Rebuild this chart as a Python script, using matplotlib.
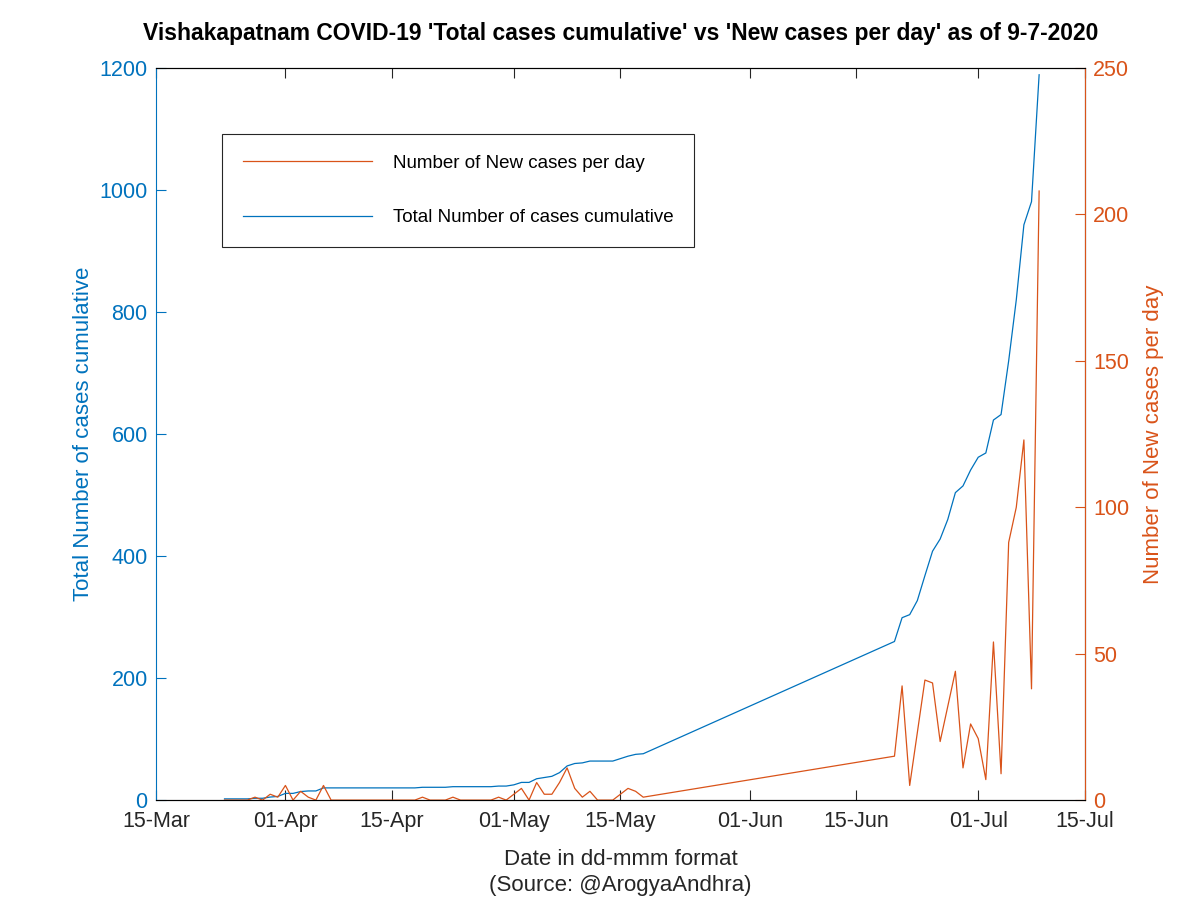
import numpy as np
import pandas as pd
import matplotlib
matplotlib.use("Agg")
import matplotlib.pyplot as plt
import matplotlib.dates as mdates

plt.rcParams['font.family'] = ['Liberation Sans', 'DejaVu Sans']

# daily data 24-Mar .. 18-May, then 20-Jun .. 09-Jul
dates_a = pd.date_range("2020-03-24", "2020-05-18")
dates_b = pd.date_range("2020-06-20", "2020-07-09")

new_a = [0, 0, 0, 0, 1, 0, 2, 1,            # 24-31 Mar
         5, 0, 3, 1, 0, 5, 0, 0, 0, 0,      # 01-10 Apr
         0, 0, 0, 0, 0, 0, 0, 0, 1, 0,      # 11-20 Apr
         0, 0, 1, 0, 0, 0, 0, 0, 1, 0,      # 21-30 Apr
         2, 4, 0, 6, 2, 2, 6, 11, 4, 1,     # 01-10 May
         3, 0, 0, 0, 2, 4, 3, 1]            # 11-18 May
total_a = [2, 2, 2, 2, 3, 3, 5, 6,
           11, 11, 14, 15, 15, 20, 20, 20, 20, 20,
           20, 20, 20, 20, 20, 20, 20, 20, 21, 21,
           21, 21, 22, 22, 22, 22, 22, 22, 23, 23,
           25, 29, 29, 35, 37, 39, 45, 56, 60, 61,
           64, 64, 64, 64, 68, 72, 75, 76]

new_b = [15, 39, 5, 23, 41, 40, 20, 32, 44, 11,
         26, 21, 7, 54, 9, 88, 100, 123, 38, 208]
total_b = [260, 299, 304, 327, 368, 408, 428, 460, 504, 515,
           541, 562, 569, 623, 632, 720, 820, 943, 981, 1189]

dates = dates_a.append(dates_b)
new_cases = new_a + new_b
total_cases = total_a + total_b

blue = '#0072BD'
orange = '#D95319'

fig = plt.figure(figsize=(12, 9), dpi=100)
ax = fig.add_axes([0.13, 0.111, 0.774, 0.8134])
ax2 = ax.twinx()

l1, = ax.plot(dates, total_cases, color=blue, lw=0.9)
l2, = ax2.plot(dates, new_cases, color=orange, lw=0.9)

ax.set_xlim(pd.Timestamp("2020-03-15"), pd.Timestamp("2020-07-15"))
ax.set_ylim(0, 1200)
ax2.set_ylim(0, 250)
ax.set_yticks(range(0, 1201, 200))
ax2.set_yticks(range(0, 251, 50))

ticks = pd.to_datetime(["2020-03-15", "2020-04-01", "2020-04-15", "2020-05-01",
                        "2020-05-15", "2020-06-01", "2020-06-15", "2020-07-01",
                        "2020-07-15"])
ax.set_xticks(ticks)
ax.xaxis.set_major_formatter(mdates.DateFormatter("%d-%b"))

ax.tick_params(axis='x', direction='in', length=7, top=True, labelsize=15.5,
               colors='#262626', pad=8)
ax.tick_params(axis='y', direction='in', length=7, labelsize=15.5,
               colors=blue, pad=6)
ax2.tick_params(axis='y', direction='in', length=7, labelsize=15.5,
                colors=orange, pad=6)

ax.spines['left'].set_color(blue)
ax.spines['bottom'].set_color('#262626')
ax.spines['top'].set_color('#262626')
ax2.spines['right'].set_color(orange)
ax2.spines['left'].set_visible(False)
for s in ax.spines.values():
    s.set_linewidth(0.8)
ax2.spines['right'].set_linewidth(0.8)

ax.set_ylabel("Total Number of cases cumulative", color=blue, fontsize=16,
              labelpad=4)
ax2.set_ylabel("Number of New cases per day", color=orange, fontsize=16,
               labelpad=10)
ax.set_xlabel("Date in dd-mmm format\n(Source: @ArogyaAndhra)", color='#262626',
              fontsize=16, labelpad=12, linespacing=1.35)
ax.set_title("Vishakapatnam COVID-19 'Total cases cumulative' vs 'New cases per day' as of 9-7-2020",
             fontsize=16.5, fontweight='bold', pad=20)

leg = ax2.legend([l2, l1], ["Number of New cases per day",
                            "Total Number of cases cumulative"],
                 loc='upper left', bbox_to_anchor=(0.185, 0.851),
                 bbox_transform=fig.transFigure, fontsize=13.5,
                 handlelength=6.9, handletextpad=1.1, labelspacing=2.0,
                 borderpad=1.1, borderaxespad=0, fancybox=False,
                 framealpha=1, edgecolor='#262626')
leg.get_frame().set_linewidth(0.8)

fig.savefig("out.png", dpi=100)
